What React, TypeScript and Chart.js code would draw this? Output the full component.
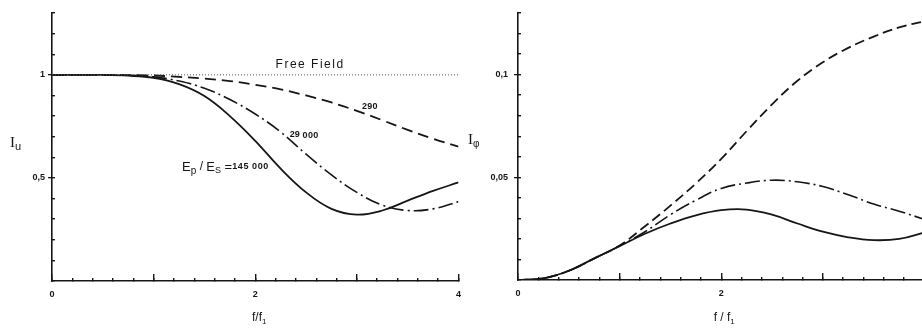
import React, { useEffect, useRef } from 'react';
import { Chart, registerables } from 'chart.js';

Chart.register(...registerables);

// ---------- data ----------
const fRatio = [0, 0.25, 0.5, 0.75, 1, 1.25, 1.5, 1.75, 2, 2.25, 2.5, 2.75, 3, 3.25, 3.5, 3.75, 4];

// Left panel: I_u
const iuE145000 = [1, 1, 1, 0.996, 0.985, 0.955, 0.897, 0.8, 0.68, 0.545, 0.43, 0.35, 0.322, 0.342, 0.39, 0.437, 0.478];
const iuE29000 = [1, 1, 1, 0.998, 0.99, 0.97, 0.935, 0.88, 0.81, 0.723, 0.615, 0.515, 0.43, 0.368, 0.342, 0.35, 0.385];
const iuE290 = [1, 1, 1, 0.999, 0.997, 0.99, 0.982, 0.97, 0.952, 0.93, 0.9, 0.866, 0.825, 0.78, 0.733, 0.69, 0.652];
const freeFieldX = [0, 4];
const freeFieldY = [1, 1];

// Right panel: I_phi
const ipE145000 = [0, 0.0008, 0.0045, 0.0105, 0.0165, 0.0225, 0.0275, 0.0315, 0.034, 0.0343, 0.0318, 0.0275, 0.0235, 0.0208, 0.0194, 0.02, 0.0232];
const ipE29000 = [0, 0.0008, 0.0045, 0.0105, 0.0166, 0.0235, 0.0318, 0.0388, 0.0446, 0.0472, 0.0486, 0.0478, 0.0455, 0.0415, 0.037, 0.0335, 0.0295];
const ipE290 = [0, 0.0008, 0.0045, 0.0105, 0.0168, 0.0262, 0.0362, 0.047, 0.059, 0.0725, 0.0855, 0.097, 0.106, 0.113, 0.1185, 0.123, 0.126];

// tick labels
const xLabelValues = [0, 2, 4];
const xLabelTexts = ['0', '2', '4'];
const iuLabelValues = [0.5, 1];
const iuLabelTexts = ['0,5', '1'];
const ipLabelValues = [0.05, 0.1];
const ipLabelTexts = ['0,05', '0,1'];

// ---------- styling ----------
const INK = '#161616';
const SANS = '"Liberation Sans", "DejaVu Sans", sans-serif';
const SERIF = '"Liberation Serif", "DejaVu Serif", serif';
const TICK_FONT = { family: SANS, size: 9, weight: 'bold' as const };

type Part = { t: string; size: number; dy?: number; family?: string; spacing?: number; weight?: string };

function drawRich(ctx: CanvasRenderingContext2D, x: number, y: number, parts: Part[], align: 'left' | 'center' = 'left') {
  ctx.save();
  ctx.textBaseline = 'middle';
  ctx.textAlign = 'left';
  ctx.fillStyle = INK;
  const setFont = (p: Part) => {
    ctx.font = `${p.weight || 'normal'} ${p.size}px ${p.family || SANS}`;
    (ctx as any).letterSpacing = `${p.spacing || 0}px`;
  };
  const widths = parts.map((p) => {
    setFont(p);
    return ctx.measureText(p.t).width;
  });
  const total = widths.reduce((a, b) => a + b, 0);
  let cx = align === 'center' ? x - total / 2 : x;
  parts.forEach((p, i) => {
    setFont(p);
    ctx.fillText(p.t, cx, y + (p.dy || 0));
    cx += widths[i];
  });
  ctx.restore();
}

function labelFor(values: number[], texts: string[]) {
  return (v: any) => {
    const n = Number(v);
    const i = values.findIndex((q) => Math.abs(q - n) < 1e-6);
    return i >= 0 ? texts[i] : '';
  };
}

function pts(xs: number[], ys: number[]) {
  return xs.map((x, i) => ({ x, y: ys[i] }));
}

type PanelCfg = {
  datasets: any[];
  yMax: number;
  yMinorStep: number;
  yMajorStep: number;
  yLabelValues: number[];
  yLabelTexts: string[];
  yAxisWidth: number;
  yLabelPadding: number;
  padTop: number;
  padRight: number;
  xAxisHeight: number;
  drawTexts: (chart: Chart) => void;
};

function buildChart(canvas: HTMLCanvasElement, p: PanelCfg) {
  return new Chart(canvas, {
    type: 'line',
    data: { datasets: p.datasets },
    options: {
      responsive: false,
      animation: false,
      devicePixelRatio: 1,
      layout: { padding: { top: p.padTop, right: p.padRight, left: 0, bottom: 0 } },
      plugins: { legend: { display: false }, tooltip: { enabled: false } },
      elements: {
        point: { radius: 0, hoverRadius: 0 },
        line: { tension: 0.4, borderCapStyle: 'butt', fill: false },
      },
      scales: {
        x: {
          type: 'linear',
          position: 'bottom',
          min: 0,
          max: 4,
          weight: 1,
          border: { display: true, color: INK, width: 1.6 },
          grid: { drawOnChartArea: false, drawTicks: true, tickLength: -3, color: INK, lineWidth: 1.4 },
          ticks: {
            stepSize: 0.2,
            autoSkip: false,
            maxRotation: 0,
            padding: 11,
            color: INK,
            font: TICK_FONT,
            callback: labelFor(xLabelValues, xLabelTexts),
          },
          afterFit: (s: any) => {
            s.height = p.xAxisHeight;
          },
        },
        xMajor: {
          type: 'linear',
          position: 'bottom',
          min: 0,
          max: 4,
          weight: 0,
          border: { display: false },
          grid: { drawOnChartArea: false, drawTicks: true, tickLength: -7, color: INK, lineWidth: 1.4 },
          ticks: { stepSize: 1, display: false, autoSkip: false },
          afterFit: (s: any) => {
            s.height = 0;
          },
        },
        y: {
          type: 'linear',
          position: 'left',
          min: 0,
          max: p.yMax,
          weight: 0,
          border: { display: true, color: INK, width: 1.6 },
          grid: { drawOnChartArea: false, drawTicks: true, tickLength: -3, color: INK, lineWidth: 1.4 },
          ticks: { stepSize: p.yMinorStep, display: false, autoSkip: false },
          afterFit: (s: any) => {
            s.width = 0;
          },
        },
        yMajor: {
          type: 'linear',
          position: 'left',
          min: 0,
          max: p.yMax,
          weight: 1,
          border: { display: false },
          grid: {
            drawOnChartArea: false,
            drawTicks: true,
            tickLength: 4,
            lineWidth: 1.3,
            color: INK,
            tickColor: (c: any) => (c.tick && Math.abs(c.tick.value) < 1e-9 ? 'rgba(0,0,0,0)' : INK),
          },
          ticks: {
            stepSize: p.yMajorStep,
            includeBounds: false,
            autoSkip: false,
            padding: p.yLabelPadding,
            color: INK,
            font: TICK_FONT,
            callback: labelFor(p.yLabelValues, p.yLabelTexts),
          },
          afterFit: (s: any) => {
            s.width = p.yAxisWidth;
          },
        },
      } as any,
    },
    plugins: [{ id: 'texts', afterDraw: (chart: Chart) => p.drawTexts(chart) }],
  } as any);
}

const solid = (data: any) => ({ data, borderColor: INK, borderWidth: 1.8, borderDash: [] });
const dashDot = (data: any) => ({ data, borderColor: INK, borderWidth: 1.6, borderDash: [15, 4, 2, 4] });
const dashed = (data: any, dash: number[]) => ({ data, borderColor: INK, borderWidth: 1.8, borderDash: dash });

export default function App() {
  const leftRef = useRef<HTMLCanvasElement>(null);
  const rightRef = useRef<HTMLCanvasElement>(null);

  useEffect(() => {
    if (!leftRef.current || !rightRef.current) return;

    const left = buildChart(leftRef.current, {
      datasets: [
        {
          data: pts(freeFieldX, freeFieldY),
          borderColor: '#555',
          borderWidth: 1,
          borderDash: [1, 2],
          tension: 0,
        },
        dashed(pts(fRatio, iuE290), [11, 6]),
        dashDot(pts(fRatio, iuE29000)),
        solid(pts(fRatio, iuE145000)),
      ],
      yMax: 1.3,
      yMinorStep: 0.1,
      yMajorStep: 0.5,
      yLabelValues: iuLabelValues,
      yLabelTexts: iuLabelTexts,
      yAxisWidth: 52,
      yLabelPadding: 3,
      padTop: 13,
      padRight: 10,
      xAxisHeight: 49,
      drawTexts: (chart) => {
        const { ctx, chartArea } = chart;
        const xs = chart.scales.x;
        const ys = chart.scales.y;
        const px = (v: number) => xs.getPixelForValue(v);
        const py = (v: number) => ys.getPixelForValue(v);
        drawRich(ctx, px(2.54), py(1.048), [{ t: 'Free Field', size: 12, spacing: 1.5 }], 'center');
        drawRich(ctx, px(3.05), py(0.848), [{ t: '290', size: 9, weight: 'bold', spacing: 0.3 }]);
        drawRich(ctx, px(2.34), py(0.705), [
          { t: '29', size: 9, weight: 'bold', dy: -1 },
          { t: ' 000', size: 9, weight: 'bold', spacing: 0.3 },
        ]);
        drawRich(ctx, px(1.28), py(0.553), [
          { t: 'E', size: 13 },
          { t: 'p', size: 10, dy: 4 },
          { t: ' / ', size: 12 },
          { t: 'E', size: 13 },
          { t: 'S', size: 9, dy: 4 },
          { t: ' =', size: 13 },
          { t: '145 000', size: 9, weight: 'bold', spacing: 0.6 },
        ]);
        drawRich(ctx, chartArea.left - 42, py(0.67), [
          { t: 'I', size: 15, family: SERIF },
          { t: 'u', size: 11, dy: 4 },
        ]);
        drawRich(ctx, px(2) + 4, chartArea.bottom + 37, [
          { t: 'f', size: 12 },
          { t: '/', size: 12 },
          { t: 'f', size: 12 },
          { t: '1', size: 8, dy: 4 },
        ], 'center');
      },
    });

    const right = buildChart(rightRef.current, {
      datasets: [
        dashed(pts(fRatio, ipE290), [10, 5]),
        dashDot(pts(fRatio, ipE29000)),
        solid(pts(fRatio, ipE145000)),
      ],
      yMax: 0.13,
      yMinorStep: 0.01,
      yMajorStep: 0.05,
      yLabelValues: ipLabelValues,
      yLabelTexts: ipLabelTexts,
      yAxisWidth: 56,
      yLabelPadding: 6,
      padTop: 13,
      padRight: 10,
      xAxisHeight: 50,
      drawTexts: (chart) => {
        const { ctx, chartArea } = chart;
        const xs = chart.scales.x;
        const ys = chart.scales.y;
        drawRich(ctx, chartArea.left - 50, ys.getPixelForValue(0.068), [
          { t: 'I', size: 15, family: SERIF },
          { t: 'φ', size: 10, dy: 4 },
        ]);
        drawRich(ctx, xs.getPixelForValue(2) + 3, chartArea.bottom + 38, [
          { t: 'f', size: 12 },
          { t: ' / ', size: 12 },
          { t: 'f', size: 12 },
          { t: '1', size: 8, dy: 4 },
        ], 'center');
      },
    });

    return () => {
      left.destroy();
      right.destroy();
    };
  }, []);

  return (
    <div
      style={{
        position: 'fixed',
        left: 0,
        top: 0,
        width: 922,
        height: 330,
        overflow: 'hidden',
        background: '#fff',
      }}
    >
      <canvas ref={leftRef} width={472} height={330} style={{ position: 'absolute', left: 0, top: 0, width: 472, height: 330 }} />
      <canvas ref={rightRef} width={476} height={330} style={{ position: 'absolute', left: 462, top: 0, width: 476, height: 330 }} />
    </div>
  );
}
